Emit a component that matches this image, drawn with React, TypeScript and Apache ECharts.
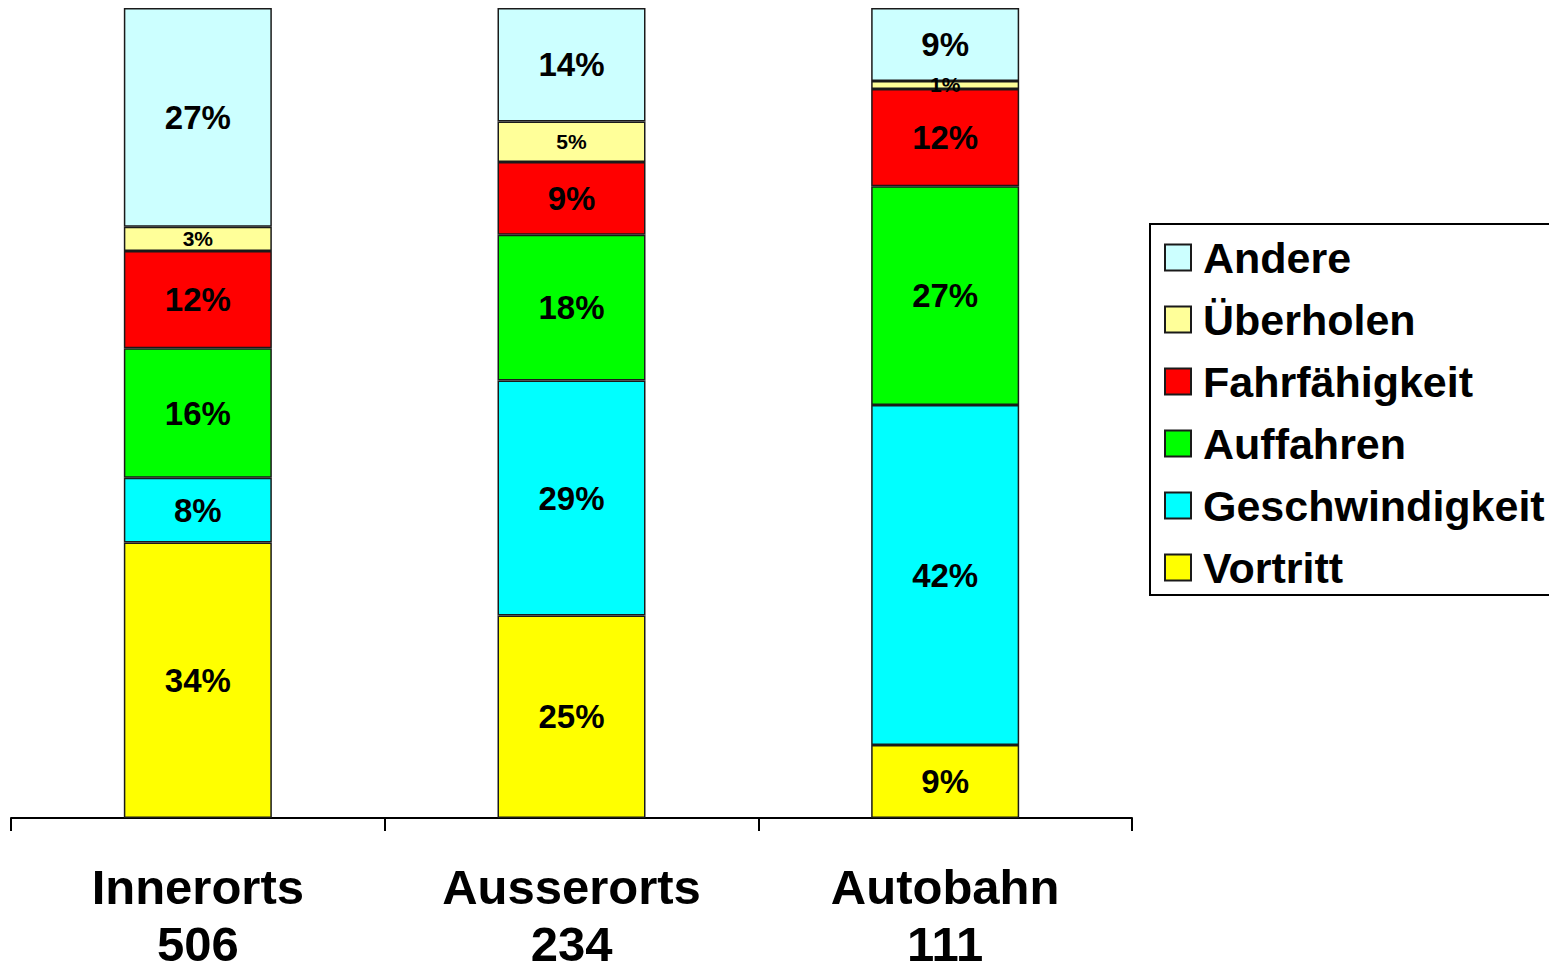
import React, { useEffect, useRef } from "react";
import * as echarts from "echarts";

const categories = ["Innerorts", "Ausserorts", "Autobahn"];
const counts = [506, 234, 111];

const vortritt = [34, 25, 9];
const geschwindigkeit = [8, 29, 42];
const auffahren = [16, 18, 27];
const fahrfaehigkeit = [12, 9, 12];
const ueberholen = [3, 5, 1];
const andere = [27, 14, 9];

const legendOrder = ["Andere", "Überholen", "Fahrfähigkeit", "Auffahren", "Geschwindigkeit", "Vortritt"];

const FONT = "'Liberation Sans', Arial, Helvetica, sans-serif";

export default function App() {
  const ref = useRef<HTMLDivElement>(null);
  useEffect(() => {
    if (!ref.current) return;
    const chart = echarts.init(ref.current, null, { renderer: "svg" });
    const mk = (name: string, data: number[], color: string, fs: number) => ({
      name,
      type: "bar",
      stack: "total",
      data,
      barWidth: 148,
      itemStyle: { color, borderColor: "#1a1a1a", borderWidth: 1.5 },
      label: {
        show: true,
        position: "inside",
        formatter: "{c}%",
        color: "#000",
        fontWeight: "bold",
        fontFamily: FONT,
        fontSize: fs,
      },
    });
    chart.setOption({
      animation: false,
      backgroundColor: "#fff",
      grid: { left: 11, right: 417, top: 8, bottom: 149, containLabel: false, outerBoundsMode: "none" },
      legend: {
        data: legendOrder,
        orient: "vertical",
        left: 1150,
        top: 224,
        padding: [12, 30, 6, 14],
        itemWidth: 26,
        itemHeight: 26,
        itemGap: 19,
        borderColor: "#000",
        borderWidth: 2,
        icon: "rect",
        textStyle: {
          fontFamily: FONT,
          fontWeight: "bold",
          fontSize: 43,
          color: "#000",
          padding: [0, 0, 0, 7],
        },
      },
      xAxis: {
        type: "category",
        data: categories.map((c, i) => c + "\n" + counts[i]),
        axisLine: { lineStyle: { color: "#000", width: 2 } },
        axisTick: { show: true, length: 13, lineStyle: { color: "#000", width: 2 } },
        axisLabel: {
          interval: 0,
          margin: 40,
          fontFamily: FONT,
          fontWeight: "bold",
          fontSize: 49,
          lineHeight: 57,
          color: "#000",
        },
      },
      yAxis: { type: "value", min: 0, max: 100, show: false },
      series: [
        mk("Vortritt", vortritt, "#FFFF00", 33),
        mk("Geschwindigkeit", geschwindigkeit, "#00FFFF", 33),
        mk("Auffahren", auffahren, "#00FF00", 33),
        mk("Fahrfähigkeit", fahrfaehigkeit, "#FF0000", 33),
        mk("Überholen", ueberholen, "#FFFF99", 21),
        mk("Andere", andere, "#CCFFFF", 33),
      ],
    });
    return () => chart.dispose();
  }, []);
  return <div ref={ref} style={{ position: "absolute", left: 0, top: 0, width: 1549, height: 967 }} />;
}
